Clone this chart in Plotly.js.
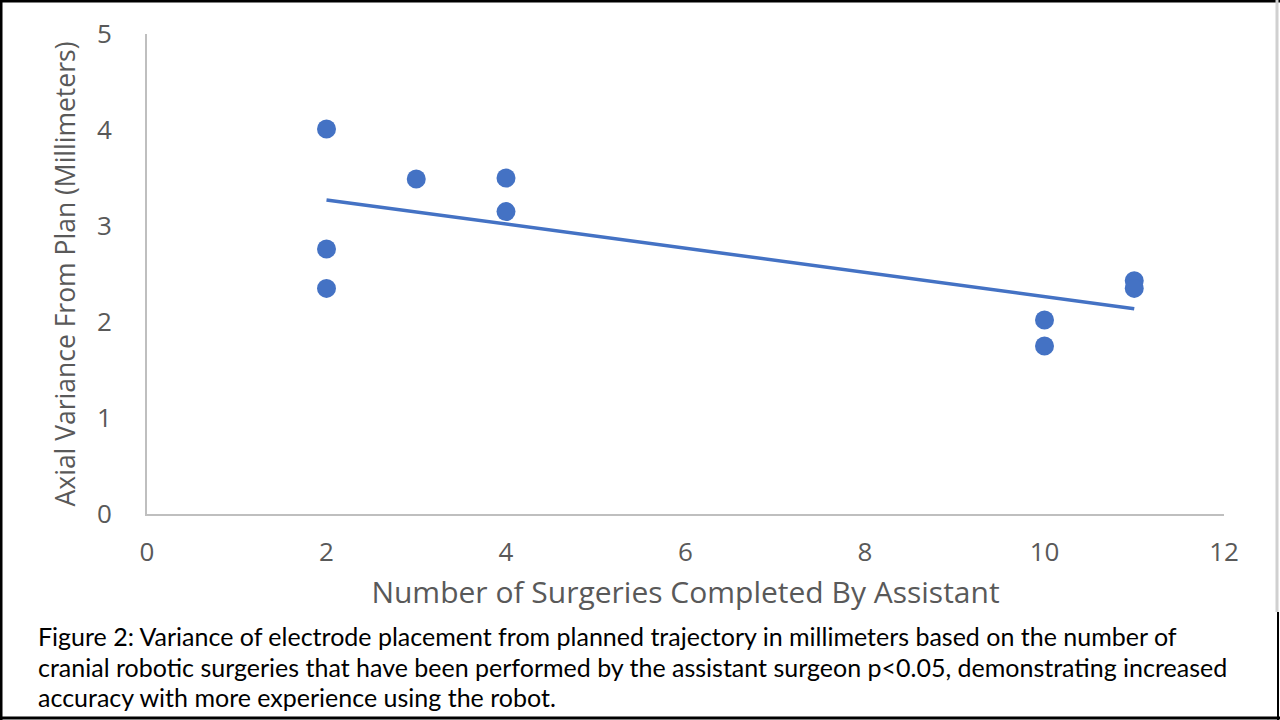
<!DOCTYPE html>
<html>
<head>
<meta charset="utf-8">
<script src="https://cdn.plot.ly/plotly-3.0.1.min.js"></script>
<style>
  html, body { margin: 0; padding: 0; background: #ffffff; }
  #chart { width: 1280px; height: 720px; }
</style>
</head>
<body>
<div id="chart"></div>
<script>
// Data
const surgeries = [2, 2, 2, 3, 4, 4, 10, 10, 11, 11];
const axialVariance = [4.01, 2.76, 2.35, 3.49, 3.50, 3.15, 2.02, 1.75, 2.43, 2.35];
const xTickValues = [0, 2, 4, 6, 8, 10, 12];
const yTickValues = [0, 1, 2, 3, 4, 5];
const xTitle = "Number of Surgeries Completed By Assistant";
const yTitle = "Axial Variance From Plan (Millimeters)";
const captionLines = [
  "Figure 2: Variance of electrode placement from planned trajectory in millimeters based on the number of",
  "cranial robotic surgeries that have been performed by the assistant surgeon p<0.05, demonstrating increased",
  "accuracy with more experience using the robot."
];

// Linear (least squares) trendline over the data range, like Excel's trendline
const n = surgeries.length;
const mx = surgeries.reduce((a, b) => a + b, 0) / n;
const my = axialVariance.reduce((a, b) => a + b, 0) / n;
let sxy = 0, sxx = 0;
for (let i = 0; i < n; i++) {
  sxy += (surgeries[i] - mx) * (axialVariance[i] - my);
  sxx += (surgeries[i] - mx) * (surgeries[i] - mx);
}
const slope = sxy / sxx;
const intercept = my - slope * mx;
const xMin = Math.min(...surgeries), xMax = Math.max(...surgeries);
const trendX = [xMin, xMax];
const trendY = trendX.map(x => intercept + slope * x);

const blue = "#4472C4";
const gray = "#595959";
const axisGray = "#BFBFBF";

const W = 1280, H = 720;
const L = 147, R = 56, T = 34, B = 206;
const pw = W - L - R, ph = H - T - B;
const px = x => (x - L) / pw;          // pixel -> paper x
const py = y => (H - B - y) / ph;      // pixel -> paper y

const traces = [
  {
    x: trendX, y: trendY, type: "scatter", mode: "lines",
    line: { color: blue, width: 3.5 }, hoverinfo: "skip", showlegend: false
  },
  {
    x: surgeries, y: axialVariance, type: "scatter", mode: "markers",
    marker: { color: blue, size: 19, line: { width: 0 } }, showlegend: false
  }
];

const annotations = captionLines.map((t, i) => ({
  text: t, xref: "paper", yref: "paper",
  x: px(36), y: py(636 + i * 30.5), xanchor: "left", yanchor: "middle",
  showarrow: false, font: { family: "Lato, 'Noto Sans', sans-serif", size: 25, color: "#000000" }
}));

const shapes = [
  // outer frame
  { type: "line", xref: "paper", yref: "paper", x0: px(0), x1: px(1280), y0: py(1), y1: py(1), line: { color: "#000", width: 3 } },
  { type: "line", xref: "paper", yref: "paper", x0: px(1), x1: px(1), y0: py(0), y1: py(720), line: { color: "#000", width: 3 } },
  { type: "line", xref: "paper", yref: "paper", x0: px(0), x1: px(1280), y0: py(718), y1: py(718), line: { color: "#000", width: 3 } },
  { type: "line", xref: "paper", yref: "paper", x0: px(1277), x1: px(1277), y0: py(0), y1: py(612), line: { color: "#D0D0D0", width: 3 } },
  { type: "line", xref: "paper", yref: "paper", x0: px(1278), x1: px(1278), y0: py(612), y1: py(720), line: { color: "#000", width: 2 } }
];

const layout = {
  width: W, height: H,
  margin: { l: L, r: R, t: T, b: B, pad: 0 },
  paper_bgcolor: "#ffffff", plot_bgcolor: "#ffffff",
  font: { family: "'Open Sans', sans-serif", color: gray },
  showlegend: false,
  xaxis: {
    range: [0, 12], tickvals: xTickValues, ticktext: xTickValues.map(String),
    showgrid: false, zeroline: false, showline: true, linecolor: axisGray, linewidth: 2,
    ticks: "", ticklabelstandoff: 14,
    tickfont: { size: 26, color: gray },
    title: { text: xTitle, font: { size: 30, color: gray }, standoff: 14 },
    automargin: false
  },
  yaxis: {
    range: [0, 5], tickvals: yTickValues, ticktext: yTickValues.map(String),
    showgrid: false, zeroline: false, showline: true, linecolor: axisGray, linewidth: 2,
    ticks: "", ticklabelstandoff: 28,
    tickfont: { size: 26, color: gray },
    title: { text: yTitle, font: { size: 26.5, color: gray }, standoff: 14 },
    automargin: false
  },
  annotations: annotations,
  shapes: shapes
};

Plotly.newPlot("chart", traces, layout, { staticPlot: true, displayModeBar: false });
</script>
</body>
</html>
